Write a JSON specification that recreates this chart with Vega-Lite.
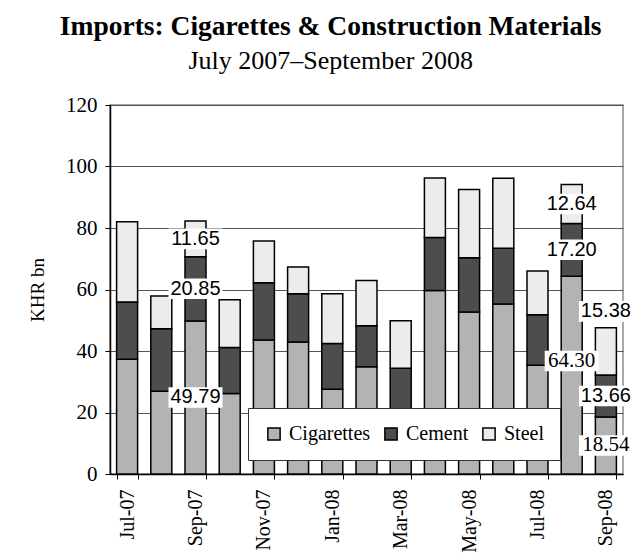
{
  "$schema": "https://vega.github.io/schema/vega-lite/v6.json",
  "width": 513,
  "height": 369,
  "padding": {"left": 28, "top": 12, "right": 12, "bottom": 5},
  "background": "white",
  "title": {
    "text": "Imports: Cigarettes & Construction Materials",
    "subtitle": "July 2007–September 2008",
    "font": "Liberation Serif",
    "fontSize": 27.5,
    "fontWeight": "bold",
    "color": "black",
    "subtitleFont": "Liberation Serif",
    "subtitleFontSize": 26,
    "subtitleColor": "black",
    "subtitlePadding": 8,
    "anchor": "middle",
    "frame": "bounds",
    "offset": 20
  },
  "data": {
    "values": [
      {"month": "Jul-07", "series": "Cigarettes", "value": 37.3},
      {"month": "Jul-07", "series": "Cement", "value": 18.6},
      {"month": "Jul-07", "series": "Steel", "value": 26.1},
      {"month": "Aug-07", "series": "Cigarettes", "value": 26.9},
      {"month": "Aug-07", "series": "Cement", "value": 20.3},
      {"month": "Aug-07", "series": "Steel", "value": 10.7},
      {"month": "Sep-07", "series": "Cigarettes", "value": 49.79},
      {"month": "Sep-07", "series": "Cement", "value": 20.85},
      {"month": "Sep-07", "series": "Steel", "value": 11.65},
      {"month": "Oct-07", "series": "Cigarettes", "value": 26.2},
      {"month": "Oct-07", "series": "Cement", "value": 14.9},
      {"month": "Oct-07", "series": "Steel", "value": 15.6},
      {"month": "Nov-07", "series": "Cigarettes", "value": 43.6},
      {"month": "Nov-07", "series": "Cement", "value": 18.6},
      {"month": "Nov-07", "series": "Steel", "value": 13.6},
      {"month": "Dec-07", "series": "Cigarettes", "value": 42.9},
      {"month": "Dec-07", "series": "Cement", "value": 15.7},
      {"month": "Dec-07", "series": "Steel", "value": 8.7},
      {"month": "Jan-08", "series": "Cigarettes", "value": 27.6},
      {"month": "Jan-08", "series": "Cement", "value": 14.8},
      {"month": "Jan-08", "series": "Steel", "value": 16.2},
      {"month": "Feb-08", "series": "Cigarettes", "value": 34.9},
      {"month": "Feb-08", "series": "Cement", "value": 13.3},
      {"month": "Feb-08", "series": "Steel", "value": 14.7},
      {"month": "Mar-08", "series": "Cigarettes", "value": 17.5},
      {"month": "Mar-08", "series": "Cement", "value": 16.9},
      {"month": "Mar-08", "series": "Steel", "value": 15.4},
      {"month": "Apr-08", "series": "Cigarettes", "value": 59.7},
      {"month": "Apr-08", "series": "Cement", "value": 17.2},
      {"month": "Apr-08", "series": "Steel", "value": 19.4},
      {"month": "May-08", "series": "Cigarettes", "value": 52.7},
      {"month": "May-08", "series": "Cement", "value": 17.6},
      {"month": "May-08", "series": "Steel", "value": 22.2},
      {"month": "Jun-08", "series": "Cigarettes", "value": 55.3},
      {"month": "Jun-08", "series": "Cement", "value": 18.1},
      {"month": "Jun-08", "series": "Steel", "value": 22.8},
      {"month": "Jul-08", "series": "Cigarettes", "value": 35.4},
      {"month": "Jul-08", "series": "Cement", "value": 16.4},
      {"month": "Jul-08", "series": "Steel", "value": 14.2},
      {"month": "Aug-08", "series": "Cigarettes", "value": 64.30},
      {"month": "Aug-08", "series": "Cement", "value": 17.20},
      {"month": "Aug-08", "series": "Steel", "value": 12.64},
      {"month": "Sep-08", "series": "Cigarettes", "value": 18.54},
      {"month": "Sep-08", "series": "Cement", "value": 13.66},
      {"month": "Sep-08", "series": "Steel", "value": 15.38}
    ]
  },
  "transform": [
    {
      "lookup": "series",
      "from": {
        "data": {"values": [
          {"series": "Cigarettes", "k": 1},
          {"series": "Cement", "k": 2},
          {"series": "Steel", "k": 3}
        ]},
        "key": "series",
        "fields": ["k"]
      }
    }
  ],
  "encoding": {
    "x": {
      "field": "month",
      "type": "ordinal",
      "scale": {
        "domain": ["Jul-07","Aug-07","Sep-07","Oct-07","Nov-07","Dec-07","Jan-08","Feb-08","Mar-08","Apr-08","May-08","Jun-08","Jul-08","Aug-08","Sep-08"],
        "paddingInner": 0.386,
        "paddingOuter": 0.193
      },
      "axis": {
        "title": null,
        "values": ["Jul-07","Sep-07","Nov-07","Jan-08","Mar-08","May-08","Jul-08","Sep-08"],
        "labelAngle": -90,
        "labelFont": "Liberation Serif",
        "labelFontSize": 20,
        "labelColor": "black",
        "labelPadding": 10,
        "domainColor": "black",
        "domainWidth": 1.5,
        "tickColor": "black",
        "tickSize": 5,
        "tickBand": "extent",
        "grid": false
      }
    }
  },
  "layer": [
    {
      "mark": {"type": "bar", "stroke": "black", "strokeWidth": 1.5},
      "encoding": {
        "y": {
          "field": "value",
          "type": "quantitative",
          "stack": "zero",
          "title": "KHR bn",
          "scale": {"domain": [0, 120], "nice": false},
          "axis": {
            "values": [0, 20, 40, 60, 80, 100, 120],
            "titleFont": "Liberation Serif",
            "titleFontSize": 19,
            "titleFontWeight": "normal",
            "titleColor": "black",
            "titlePadding": 18,
            "labelFont": "Liberation Serif",
            "labelFontSize": 21,
            "labelColor": "black",
            "labelPadding": 8,
            "tickSize": 5,
            "tickColor": "black",
            "domainColor": "black",
            "domainWidth": 1.5,
            "gridColor": "#555555",
            "gridWidth": 1
          }
        },
        "color": {
          "field": "series",
          "type": "nominal",
          "scale": {
            "domain": ["Cigarettes", "Cement", "Steel"],
            "range": ["#b3b3b3", "#4d4d4d", "#ececec"]
          },
          "legend": {
            "orient": "none",
            "legendX": 138,
            "legendY": 303,
            "direction": "horizontal",
            "title": null,
            "fillColor": "white",
            "strokeColor": "#333333",
            "padding": 16,
            "labelFont": "Liberation Serif",
            "labelFontSize": 20,
            "labelColor": "black",
            "labelOffset": 5,
            "columnPadding": 10,
            "symbolType": "square",
            "symbolSize": 150,
            "symbolStrokeColor": "black",
            "symbolStrokeWidth": 1.5
          }
        },
        "order": {"field": "k", "type": "quantitative"}
      }
    },
    {
      "transform": [{"filter": {"field": "month", "oneOf": ["Sep-07", "Aug-08", "Sep-08"]}}],
      "layer": [
        {
          "mark": {"type": "point", "shape": "M-1,-0.38L1,-0.38L1,0.38L-1,0.38Z", "size": 2916, "filled": true, "fill": "white", "strokeWidth": 0},
          "encoding": {
            "y": {"field": "value", "type": "quantitative", "stack": "zero", "bandPosition": 0.5, "title": "KHR bn"},
            "detail": {"field": "series"},
            "order": {"field": "k", "type": "quantitative"},
            "opacity": {
              "condition": {"test": "(datum.month !== 'Sep-07' && datum.series === 'Cigarettes') || (datum.month === 'Sep-08' && datum.series === 'Steel')", "value": 0},
              "value": 1
            }
          }
        },
        {
          "mark": {"type": "text", "font": "Liberation Sans", "fontSize": 20, "fill": "black", "baseline": "middle"},
          "encoding": {
            "y": {"field": "value", "type": "quantitative", "stack": "zero", "bandPosition": 0.5, "title": "KHR bn"},
            "detail": {"field": "series"},
            "order": {"field": "k", "type": "quantitative"},
            "text": {"field": "value", "type": "quantitative", "format": ".2f"},
            "opacity": {
              "condition": {"test": "(datum.month !== 'Sep-07' && datum.series === 'Cigarettes') || (datum.month === 'Sep-08' && datum.series === 'Steel')", "value": 0},
              "value": 1
            }
          }
        }
      ]
    },
    {
      "transform": [{"filter": {"field": "month", "equal": "Aug-08"}}],
      "layer": [
        {
          "mark": {"type": "point", "shape": "M-1,-0.9L1,-0.9L1,-0.14L-1,-0.14Z", "size": 2916, "filled": true, "fill": "white", "strokeWidth": 0},
          "encoding": {
            "y": {"field": "value", "type": "quantitative", "stack": "zero", "bandPosition": 0.5, "title": "KHR bn"},
            "detail": {"field": "series"},
            "order": {"field": "k", "type": "quantitative"},
            "opacity": {"condition": {"test": "datum.series === 'Cigarettes'", "value": 1}, "value": 0}
          }
        },
        {
          "mark": {"type": "text", "font": "Liberation Serif", "fontSize": 21, "fill": "black", "baseline": "middle", "dy": -14},
          "encoding": {
            "y": {"field": "value", "type": "quantitative", "stack": "zero", "bandPosition": 0.5, "title": "KHR bn"},
            "detail": {"field": "series"},
            "order": {"field": "k", "type": "quantitative"},
            "text": {"field": "value", "type": "quantitative", "format": ".2f"},
            "opacity": {"condition": {"test": "datum.series === 'Cigarettes'", "value": 1}, "value": 0}
          }
        }
      ]
    },
    {
      "transform": [{"filter": {"field": "month", "equal": "Sep-08"}}],
      "layer": [
        {
          "mark": {"type": "point", "shape": "M-1,-0.38L1,-0.38L1,0.38L-1,0.38Z", "size": 2916, "filled": true, "fill": "white", "strokeWidth": 0},
          "encoding": {
            "y": {"field": "value", "type": "quantitative", "stack": "zero", "bandPosition": 0.5, "title": "KHR bn"},
            "detail": {"field": "series"},
            "order": {"field": "k", "type": "quantitative"},
            "opacity": {"condition": {"test": "datum.series === 'Cigarettes'", "value": 1}, "value": 0}
          }
        },
        {
          "mark": {"type": "text", "font": "Liberation Serif", "fontSize": 21, "fill": "black", "baseline": "middle"},
          "encoding": {
            "y": {"field": "value", "type": "quantitative", "stack": "zero", "bandPosition": 0.5, "title": "KHR bn"},
            "detail": {"field": "series"},
            "order": {"field": "k", "type": "quantitative"},
            "text": {"field": "value", "type": "quantitative", "format": ".2f"},
            "opacity": {"condition": {"test": "datum.series === 'Cigarettes'", "value": 1}, "value": 0}
          }
        },
        {
          "mark": {"type": "point", "shape": "M-1,-1.86L1,-1.86L1,-1.1L-1,-1.1Z", "size": 2916, "filled": true, "fill": "white", "strokeWidth": 0},
          "encoding": {
            "y": {"field": "value", "type": "quantitative", "stack": "zero", "bandPosition": 0.5, "title": "KHR bn"},
            "detail": {"field": "series"},
            "order": {"field": "k", "type": "quantitative"},
            "opacity": {"condition": {"test": "datum.series === 'Steel'", "value": 1}, "value": 0}
          }
        },
        {
          "mark": {"type": "text", "font": "Liberation Sans", "fontSize": 20, "fill": "black", "baseline": "middle", "dy": -40},
          "encoding": {
            "y": {"field": "value", "type": "quantitative", "stack": "zero", "bandPosition": 0.5, "title": "KHR bn"},
            "detail": {"field": "series"},
            "order": {"field": "k", "type": "quantitative"},
            "text": {"field": "value", "type": "quantitative", "format": ".2f"},
            "opacity": {"condition": {"test": "datum.series === 'Steel'", "value": 1}, "value": 0}
          }
        }
      ]
    }
  ],
  "config": {
    "view": {"stroke": "#8c8c8c", "strokeWidth": 1.5},
    "axis": {"zindex": 1}
  }
}
